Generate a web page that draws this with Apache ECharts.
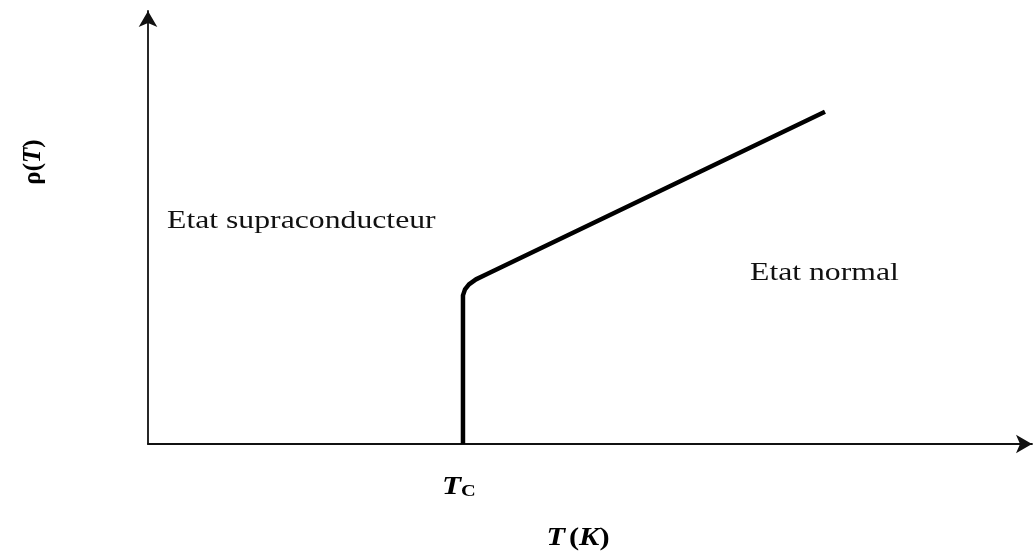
<!DOCTYPE html>
<html>
<head>
<meta charset="utf-8">
<style>html,body{margin:0;padding:0;background:#fff;}#c{width:1035px;height:553px;}</style>
<script src="https://cdn.jsdelivr.net/npm/echarts@6/dist/echarts.min.js"></script>
</head>
<body>
<div id="c"></div>
<script>
// Temperature (arbitrary units) and resistivity (arbitrary units)
var temperature = [35.63, 35.63, 35.86, 36.31, 37.10, 38.24, 76.58];
var resistivity = [0, 34.33, 35.71, 36.87, 38.02, 39.17, 76.73];
var criticalT = 35.63;
var xLabel = 'T (K)';
var yLabel = 'ρ(T)';
var tcLabel = 'T';
var tcSub = 'C';
var regionLabels = ['Etat supraconducteur', 'Etat normal'];
var regionPos = [[2.15, 51.4], [68.1, 39.4]];

var chart = echarts.init(document.getElementById('c'), null, {renderer: 'canvas'});
var data = temperature.map(function (t, i) { return [t, resistivity[i]]; });
var axisCommon = {
  type: 'value', min: 0, max: 100,
  axisLine: {show: true, onZero: false, lineStyle: {color: '#111', width: 1.8}, symbol: ['none', 'arrow'], symbolSize: [14, 16], symbolOffset: [0, 0]},
  axisTick: {show: false}, axisLabel: {show: false}, splitLine: {show: false}
};
chart.setOption({
  animation: false,
  backgroundColor: '#fff',
  grid: {left: 148, right: 3, top: 11, bottom: 109},
  xAxis: axisCommon,
  yAxis: axisCommon,
  series: [{
    type: 'line', data: data, symbol: 'none', smooth: false,
    lineStyle: {color: '#000', width: 4.5, join: 'round', cap: 'butt'}
  }]
});

var serif = '"Liberation Serif", "DejaVu Serif", serif';
var sx = 1.22;
var p1 = chart.convertToPixel({gridIndex: 0}, regionPos[0]);
var p2 = chart.convertToPixel({gridIndex: 0}, regionPos[1]);
var pTc = chart.convertToPixel({gridIndex: 0}, [criticalT, 0]);
chart.setOption({
  graphic: [
    {type: 'text', x: p1[0], y: p1[1], scaleX: sx, style: {text: regionLabels[0], font: '26px ' + serif, fill: '#111', textAlign: 'left', textVerticalAlign: 'middle'}},
    {type: 'text', x: p2[0], y: p2[1], scaleX: sx, style: {text: regionLabels[1], font: '26px ' + serif, fill: '#111', textAlign: 'left', textVerticalAlign: 'middle'}},
    {type: 'text', x: pTc[0] - 21, y: pTc[1] + 43, scaleX: 1.2, style: {
      text: '{t|' + tcLabel + '}{s|' + tcSub + '}', textAlign: 'left', textVerticalAlign: 'middle',
      rich: {t: {fontFamily: serif, fontSize: 26, fontWeight: 'bold', fontStyle: 'italic', fill: '#000'},
             s: {fontFamily: serif, fontSize: 17, fontWeight: 'bold', fill: '#000', padding: [10, 0, 0, 0]}}
    }},
    {type: 'text', x: 578, y: 538, scaleX: 1.17, style: {
      text: '{a|T} {b|(}{a|K}{b|)}', textAlign: 'center', textVerticalAlign: 'middle',
      rich: {a: {fontFamily: serif, fontSize: 26, fontWeight: 'bold', fontStyle: 'italic', fill: '#000'},
             b: {fontFamily: serif, fontSize: 26, fontWeight: 'bold', fill: '#000'}}
    }},
    {type: 'text', x: 34, y: 162, rotation: Math.PI / 2, style: {
      text: '{b|ρ(}{a|T}{b|)}', textAlign: 'center', textVerticalAlign: 'middle',
      rich: {a: {fontFamily: serif, fontSize: 25, fontWeight: 'bold', fontStyle: 'italic', fill: '#000'},
             b: {fontFamily: serif, fontSize: 25, fontWeight: 'bold', fill: '#000'}}
    }}
  ]
});
</script>
</body>
</html>
